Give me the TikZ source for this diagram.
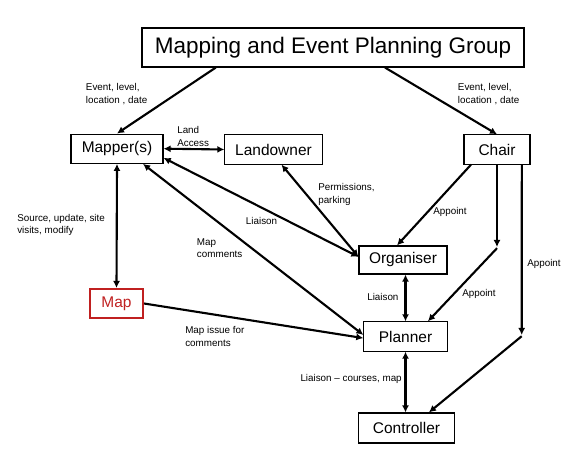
\documentclass[tikz,border=0pt]{standalone}
\usepackage{fontspec}
\setmainfont{Liberation Sans}
\usetikzlibrary{arrows.meta,calc}
\definecolor{mapred}{RGB}{192,32,32}

\begin{document}
\begin{tikzpicture}[x=0.025cm,y=-0.025cm,
  box/.style={draw,line width=0.8pt,inner sep=0pt,font=\fontsize{11}{13}\selectfont},
  lbl/.style={inner sep=0pt,align=left,anchor=west,font=\fontsize{7}{9}\selectfont},
  arr/.style={line width=1.5pt,-{Latex[length=5pt,width=5pt]}},
  dbl/.style={line width=1.5pt,{Latex[length=5pt,width=5pt]}-{Latex[length=5pt,width=5pt]}}]
  \useasboundingbox (0,0) rectangle (584,471);
  % boxes
  \node[box,minimum width=9.55cm,minimum height=0.975cm,font=\fontsize{16}{19}\selectfont] (group) at (333,47.5) {Mapping and Event Planning Group};
  \node[box,minimum width=2.3cm,minimum height=0.73cm] (mapper) at (117,148.7) {Mapper(s)};
  \node[box,minimum width=2.43cm,minimum height=0.73cm] (land) at (273.5,149.5) {Landowner};
  \node[box,minimum width=1.65cm,minimum height=0.73cm] (chair) at (497,149.5) {Chair};
  \node[box,minimum width=2.2cm,minimum height=0.7cm] (org) at (403,260) {Organiser};
  \node[box,minimum width=2.08cm,minimum height=0.73cm] (planner) at (405.5,336.5) {Planner};
  \node[box,minimum width=2.38cm,minimum height=0.75cm] (ctrl) at (406.5,428) {Controller};
  \node[box,draw=mapred,text=mapred,line width=1.3pt,minimum width=1.33cm,minimum height=0.73cm] (map) at (116.5,303.5) {Map};
  \coordinate (c1) at (497,247);
  \coordinate (c2) at (521.7,335);
  % connectors
  \draw[arr] ([xshift=-2.93cm]group.south) -- (mapper.north);
  \draw[arr] ([xshift=1.3cm]group.south) -- (chair.north);
  \draw[dbl] (mapper.east) -- (land.west);
  \draw[dbl] (mapper.south) -- (map.north);
  \draw[arr] (map.east) -- ([yshift=-0.04cm]planner.west);
  \draw[dbl] ([xshift=0.65cm]mapper.south) -- ([yshift=0.04cm]planner.west);
  \draw[dbl] ([yshift=-0.23cm]mapper.east) -- ([yshift=0.08cm]org.west);
  \draw[dbl] ([xshift=0.2cm]land.south) -- ([yshift=0.08cm]org.west);
  \draw[arr] ([xshift=-0.65cm]chair.south) -- ([xshift=-0.15cm]org.north);
  \draw[arr] (chair.south) -- (c1);
  \draw[arr] ([yshift=-0.03cm]c1) -- ([xshift=0.56cm]planner.north);
  \draw[arr] ([xshift=0.62cm]chair.south) -- (c2);
  \draw[arr] ([yshift=-0.03cm]c2) -- ([xshift=0.56cm]ctrl.north);
  \draw[dbl] (planner.north |- org.south) -- (planner.north);
  \draw[dbl] (planner.south) -- (planner.south |- ctrl.north);
  % labels
  \node[lbl] (evl) at (85.7,94) {Event, level,\\location , date};
  \node[lbl] (evr) at (457.7,94) {Event, level,\\location , date};
  \node[lbl] (access) at (177,136.5) {Land\\Access};
  \node[lbl] (source) at (17,225) {Source, update, site\\visits, modify};
  \node[lbl] (liaison1) at (245.7,221) {Liaison};
  \node[lbl] (mapcom) at (196.7,248) {Map\\comments};
  \node[lbl] (perm) at (318,194.5) {Permissions,\\parking};
  \node[lbl] (app1) at (433,211.7) {Appoint};
  \node[lbl] (issue) at (185,336.5) {Map issue for\\comments};
  \node[lbl] (liaison2) at (367,297) {Liaison};
  \node[lbl] (app2) at (462,294) {Appoint};
  \node[lbl] (app3) at (527,264) {Appoint};
  \node[lbl,anchor=east] (courses) at (402,379) {Liaison -- courses, map};
\end{tikzpicture}
\end{document}
